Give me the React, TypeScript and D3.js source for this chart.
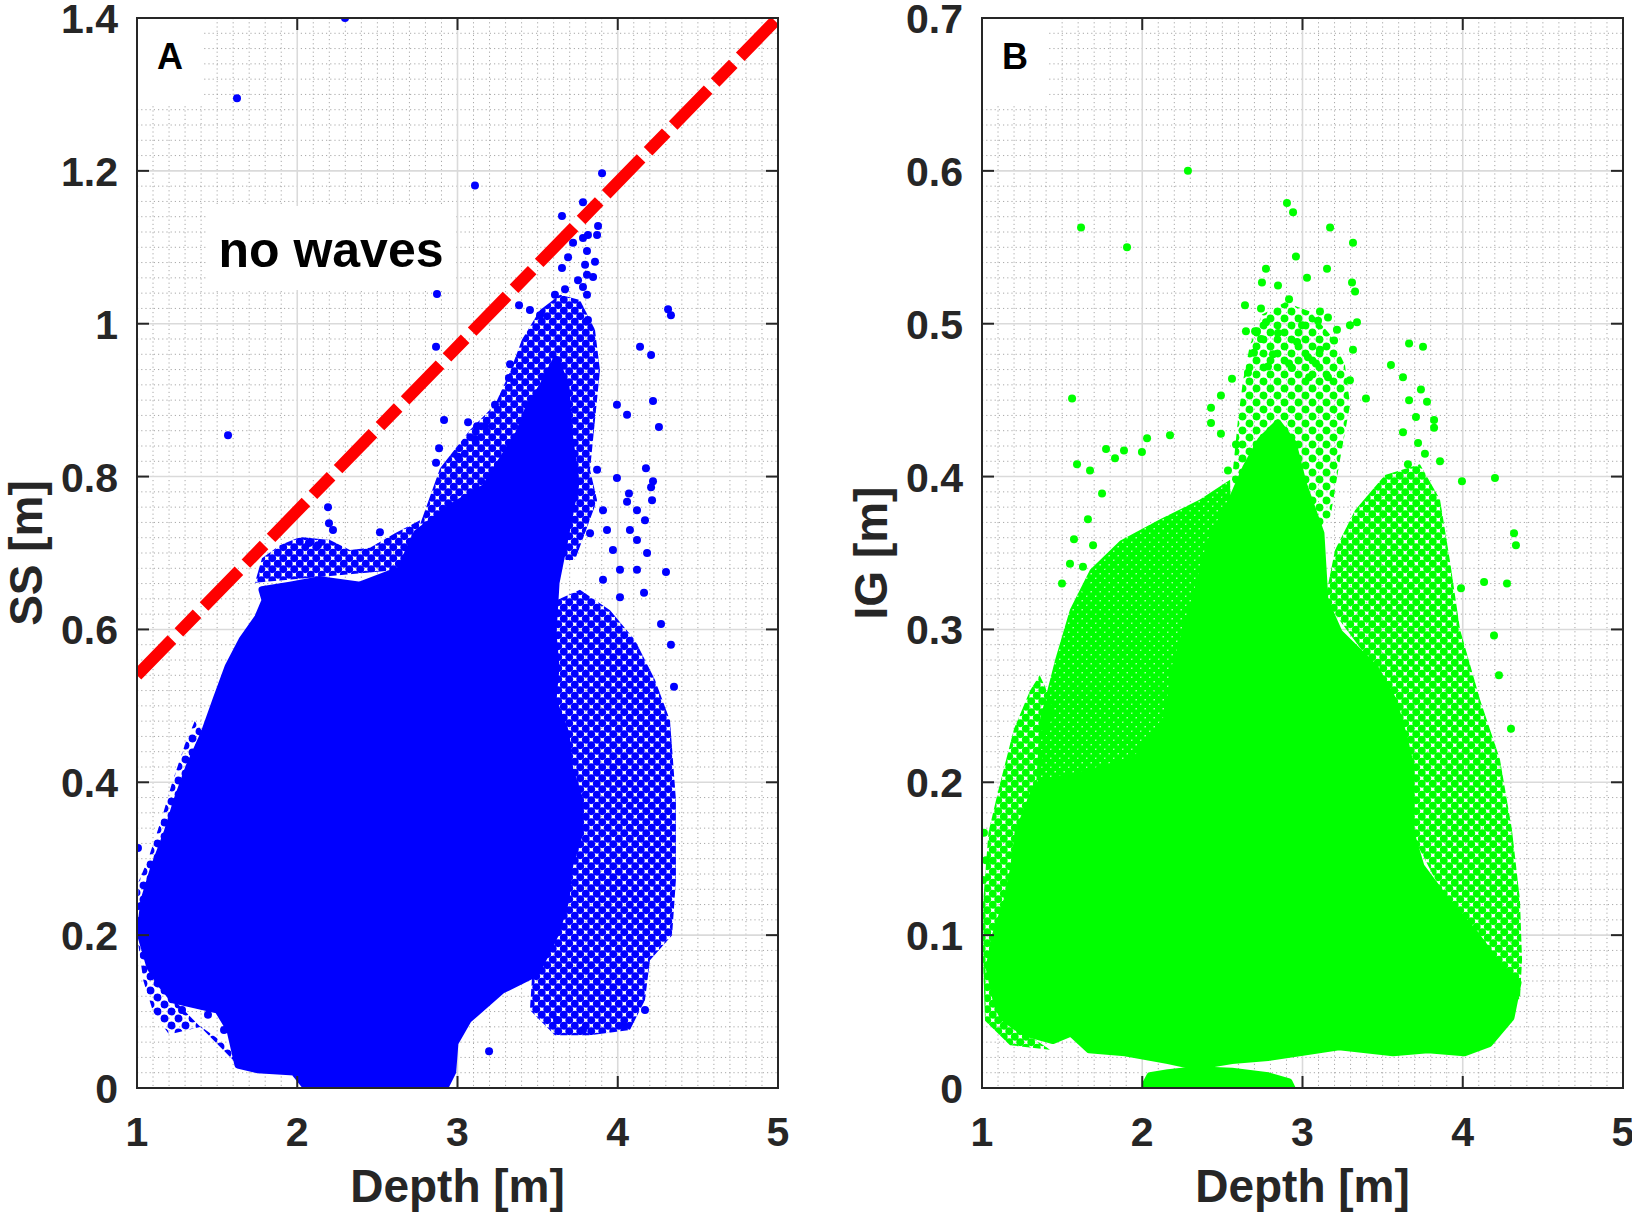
import React from "react";
import * as d3 from "d3";

type P = [number, number];

// ---------- axes / ticks ----------
const DEPTH_TICKS = [1, 2, 3, 4, 5];
const SS_TICKS = [0, 0.2, 0.4, 0.6, 0.8, 1, 1.2, 1.4];
const IG_TICKS = [0, 0.1, 0.2, 0.3, 0.4, 0.5, 0.6, 0.7];

// ---------- Panel A: SS wave height vs depth ----------
// dense core of the cloud (outline, [depth, SS])
const SS_CORE: P[] = [
  [1.799, 0.638], [1.755, 0.616], [1.655, 0.586], [1.568, 0.551], [1.493, 0.508],
  [1.418, 0.464], [1.324, 0.42], [1.25, 0.377], [1.187, 0.334], [1.106, 0.289],
  [1.044, 0.246], [1.019, 0.203], [1.081, 0.158], [1.144, 0.137], [1.231, 0.115],
  [1.505, 0.102], [1.58, 0.076], [1.63, 0.03], [1.75, 0.024], [1.98, 0.021], [2.06, 0],
  [2.92, 0], [2.97, 0.021], [2.984, 0.059], [3.066, 0.089], [3.278, 0.128],
  [3.49, 0.15], [3.615, 0.203], [3.677, 0.246], [3.696, 0.289], [3.764, 0.334],
  [3.764, 0.377], [3.696, 0.42], [3.677, 0.464], [3.596, 0.508], [3.615, 0.551],
  [3.596, 0.595], [3.615, 0.661], [3.677, 0.726], [3.739, 0.792], [3.696, 0.857],
  [3.677, 0.917], [3.615, 0.953], [3.527, 0.917], [3.446, 0.891], [3.384, 0.857],
  [3.278, 0.822], [3.172, 0.786], [2.959, 0.76], [2.747, 0.726], [2.641, 0.678],
  [2.392, 0.658], [2.142, 0.665], [1.955, 0.658], [1.78, 0.652],
];
// busy but scattered areas around the core
const SS_FRINGE_LEFT_LOBE: P[] = [
  [1.736, 0.661], [1.78, 0.693], [1.892, 0.71], [2.017, 0.721], [2.204, 0.717],
  [2.329, 0.704], [2.454, 0.707], [2.61, 0.726], [2.766, 0.743], [2.747, 0.71],
  [2.641, 0.678],
];
const SS_FRINGE_SPIKE: P[] = [
  [2.747, 0.726], [2.891, 0.811], [3.078, 0.861], [3.234, 0.894], [3.328, 0.937],
  [3.402, 0.979], [3.515, 1.018], [3.64, 1.038], [3.764, 1.031], [3.858, 0.992],
  [3.889, 0.939], [3.858, 0.874], [3.827, 0.809], [3.871, 0.769], [3.733, 0.691],
  [3.265, 0.691],
];
const SS_FRINGE_RIGHT: P[] = [
  [3.615, 0.638], [3.764, 0.652], [3.952, 0.625], [4.108, 0.586], [4.232, 0.534],
  [4.326, 0.481], [4.363, 0.377], [4.363, 0.272], [4.339, 0.2], [4.201, 0.167],
  [4.17, 0.115], [4.076, 0.076], [3.827, 0.069], [3.608, 0.069], [3.452, 0.102],
];
const SS_FRINGE_LEFT_EDGE: P[] = [
  [1.418, 0.464], [1.36, 0.48], [1.3, 0.45], [1.22, 0.4], [1.15, 0.35],
  [1.07, 0.3], [1.01, 0.27], [1.0, 0.2], [1.04, 0.14], [1.1, 0.1],
  [1.2, 0.07], [1.4, 0.08], [1.6, 0.05], [1.7, 0.03], [1.8, 0.024],
  [1.63, 0.03], [1.231, 0.115],
];
// individual visible points
const SS_POINTS: P[] = [
  [2.298, 1.4], [1.624, 1.295], [3.109, 1.181], [2.872, 1.039], [2.866, 0.97], [1.568, 0.854],
  [3.902, 1.197], [3.783, 1.159], [3.652, 1.141], [3.877, 1.128], [3.871, 1.116], [3.814, 1.116],
  [3.783, 1.112], [3.721, 1.106], [3.808, 1.095], [3.69, 1.087], [3.546, 1.087], [3.652, 1.073],
  [3.858, 1.081], [3.796, 1.077], [3.808, 1.064], [3.846, 1.061], [3.752, 1.057], [3.783, 1.048],
  [3.671, 1.045], [3.608, 1.038], [3.808, 1.038], [3.384, 1.024], [3.452, 1.018], [3.515, 1.011],
  [3.814, 1.005], [4.139, 0.97], [4.208, 0.959], [3.995, 0.894], [4.058, 0.881], [4.176, 0.811],
  [4.257, 0.865], [2.916, 0.874], [3.066, 0.871], [3.122, 0.866], [3.172, 0.866], [3.109, 0.849],
  [3.234, 0.894], [3.328, 0.947], [3.321, 0.929], [2.516, 0.727], [2.192, 0.76], [2.198, 0.739],
  [2.223, 0.73], [2.073, 0.713], [2.129, 0.71], [2.866, 0.818], [2.885, 0.837], [3.003, 0.826],
  [4.314, 1.019], [4.332, 1.011], [4.22, 0.899], [4.07, 0.778], [4.22, 0.794], [4.17, 0.743],
  [4.301, 0.675], [4.27, 0.607], [4.332, 0.58], [4.351, 0.525], [1.006, 0.314], [1.025, 0.238],
  [1.187, 0.144], [1.218, 0.116], [1.281, 0.102], [1.443, 0.096], [1.543, 0.076], [1.705, 0.042],
  [1.768, 0.027], [3.621, 0.089], [3.783, 0.076], [4.039, 0.082], [4.17, 0.102], [3.197, 0.048],
  [2.941, 0.014], [3.871, 0.809], [3.995, 0.798], [3.908, 0.756], [4.058, 0.767], [4.12, 0.756],
  [3.933, 0.73], [4.076, 0.73], [3.827, 0.726], [3.97, 0.704], [4.12, 0.717], [4.183, 0.7],
  [4.014, 0.678], [4.12, 0.678], [3.908, 0.665], [4.014, 0.642], [4.164, 0.648], [4.208, 0.786],
  [4.214, 0.769],
];
// "no waves" limit line
const LIMIT_LINE: P[] = [[1, 0.54], [5, 1.4]];

// ---------- Panel B: IG wave height vs depth ----------
const IG_CORE: P[] = [
  [2.847, 0.435], [2.941, 0.422], [3.003, 0.396], [3.115, 0.363], [3.14, 0.319],
  [3.228, 0.298], [3.452, 0.275], [3.565, 0.254], [3.627, 0.232], [3.677, 0.21],
  [3.677, 0.188], [3.677, 0.167], [3.739, 0.145], [3.896, 0.123], [4.076, 0.101],
  [4.232, 0.079], [4.345, 0.069], [4.301, 0.046], [4.164, 0.029], [4.008, 0.023],
  [3.783, 0.025], [3.565, 0.023], [3.228, 0.027], [2.785, 0.02], [2.56, 0.018],
  [2.335, 0.014], [2.161, 0.018], [1.892, 0.023], [1.668, 0.025], [1.555, 0.036],
  [1.443, 0.031], [1.268, 0.036], [1.131, 0.046], [1.087, 0.058], [1.044, 0.079],
  [1.087, 0.101], [1.156, 0.123], [1.2, 0.145], [1.225, 0.167], [1.337, 0.197],
  [1.443, 0.201], [1.668, 0.206], [1.961, 0.215], [2.161, 0.243], [2.204, 0.275],
  [2.329, 0.319], [2.429, 0.358], [2.56, 0.385], [2.647, 0.406], [2.741, 0.424],
];
const IG_BOTTOM_BLOB: P[] = [
  [2.023, 0.003], [2.048, 0.008], [2.161, 0.01], [2.335, 0.012], [2.56, 0.011],
  [2.785, 0.008], [2.916, 0.004], [2.934, 0], [2.023, 0],
];
const IG_FRINGE_UPPER_LEFT: P[] = [
  [1.337, 0.197], [1.362, 0.241], [1.456, 0.28], [1.549, 0.313], [1.674, 0.339],
  [1.861, 0.358], [2.111, 0.372], [2.36, 0.385], [2.548, 0.398], [2.56, 0.345],
  [2.429, 0.306], [2.248, 0.267], [2.161, 0.234], [1.961, 0.208],
];
const IG_FRINGE_SPIKE: P[] = [
  [2.56, 0.398], [2.597, 0.437], [2.629, 0.463], [2.672, 0.486], [2.747, 0.506],
  [2.891, 0.514], [3.047, 0.508], [3.172, 0.493], [3.265, 0.473], [3.297, 0.447],
  [3.234, 0.411], [3.172, 0.372], [2.984, 0.358], [2.735, 0.358],
];
const IG_FRINGE_RIGHT: P[] = [
  [3.14, 0.319], [3.203, 0.352], [3.328, 0.378], [3.515, 0.401], [3.733, 0.408],
  [3.858, 0.385], [3.92, 0.345], [3.983, 0.3], [4.108, 0.254], [4.232, 0.215],
  [4.307, 0.169], [4.357, 0.123], [4.37, 0.084], [4.357, 0.058], [4.232, 0.058],
  [3.896, 0.123], [3.677, 0.167], [3.627, 0.232], [3.452, 0.275],
];
const IG_FRINGE_LEFT_EDGE: P[] = [
  [1.45, 0.25], [1.36, 0.27], [1.3, 0.26], [1.2, 0.235], [1.1, 0.194],
  [1.04, 0.167], [1.006, 0.12], [1.006, 0.084], [1.019, 0.044], [1.175, 0.028],
  [1.424, 0.025], [1.131, 0.046], [1.044, 0.079], [1.2, 0.145], [1.337, 0.197],
];
const IG_POINTS: P[] = [
  [2.285, 0.6], [1.618, 0.563], [1.905, 0.55], [1.562, 0.451], [2.903, 0.579], [2.941, 0.573],
  [3.172, 0.563], [3.315, 0.553], [2.959, 0.544], [2.772, 0.536], [3.153, 0.536], [3.028, 0.53],
  [2.747, 0.527], [2.847, 0.525], [3.309, 0.527], [3.328, 0.521], [2.916, 0.516], [2.641, 0.512],
  [2.741, 0.51], [3.109, 0.508], [2.772, 0.501], [3.097, 0.502], [3.159, 0.504], [3.296, 0.499],
  [3.34, 0.501], [2.997, 0.499], [2.647, 0.495], [2.716, 0.495], [2.847, 0.494], [3.215, 0.496],
  [3.665, 0.487], [3.752, 0.485], [3.552, 0.473], [3.627, 0.465], [3.739, 0.457], [3.665, 0.45],
  [3.777, 0.449], [3.708, 0.439], [3.821, 0.437], [3.821, 0.432], [3.627, 0.429], [3.721, 0.422],
  [3.764, 0.415], [3.858, 0.41], [3.658, 0.408], [4.201, 0.399], [4.32, 0.363], [4.332, 0.355],
  [3.989, 0.327], [4.133, 0.331], [4.276, 0.33], [1.593, 0.408], [1.674, 0.404], [1.749, 0.389],
  [1.774, 0.418], [1.83, 0.412], [1.886, 0.417], [2.03, 0.425], [1.998, 0.416], [2.173, 0.427],
  [1.574, 0.359], [1.549, 0.343], [1.63, 0.341], [1.661, 0.372], [1.693, 0.355], [1.499, 0.33],
  [1.649, 0.326], [2.704, 0.495], [2.741, 0.49], [2.697, 0.481], [2.816, 0.48], [2.966, 0.488],
  [2.916, 0.474], [3.034, 0.478], [3.084, 0.474], [3.109, 0.483], [3.197, 0.489], [3.315, 0.483],
  [2.66, 0.468], [2.56, 0.464], [2.785, 0.472], [2.934, 0.471], [3.041, 0.465], [3.159, 0.465],
  [3.296, 0.463], [3.396, 0.451], [2.491, 0.453], [2.429, 0.445], [2.429, 0.435], [2.491, 0.428],
  [2.585, 0.421], [2.535, 0.404], [1.012, 0.167], [1.025, 0.149], [1.006, 0.136], [3.995, 0.397],
  [4.195, 0.296], [4.226, 0.27], [4.301, 0.235],
];

// ---------- layout ----------
const W = 1632;
const H = 1216;
const TOP = 18;
const BOTTOM = 1088;
const FONT = "'Liberation Sans', Arial, Helvetica, sans-serif";
const AX = "#262626";

type Density = "dense" | "medium" | "sparse";
type Fringe = { pts: P[]; density: Density };

type PanelProps = {
  id: string;
  left: number;
  right: number;
  yMax: number;
  yTicks: number[];
  yMinorStep: number;
  yMajorStep: number;
  ylabel: string;
  letter: string;
  color: string;
  core: P[][];
  fringe: Fringe[];
  points: P[];
  children?: (x: d3.ScaleLinear<number, number>, y: d3.ScaleLinear<number, number>) => React.ReactNode;
};

const PATTERNS: Record<Density, { tile: number; r: number }> = {
  dense: { tile: 9, r: 3.9 },
  medium: { tile: 11, r: 3.9 },
  sparse: { tile: 14, r: 3.9 },
};

function fmt(v: number) {
  return String(Math.round(v * 100) / 100);
}

function Panel(p: PanelProps) {
  const x = d3.scaleLinear().domain([1, 5]).range([p.left, p.right]);
  const y = d3.scaleLinear().domain([0, p.yMax]).range([BOTTOM, TOP]);
  const poly = d3
    .line<P>()
    .x((d) => x(d[0]))
    .y((d) => y(d[1]))
    .curve(d3.curveLinearClosed);

  const xMinor = d3.range(10, 51).map((i) => i / 10).filter((v) => Math.abs(v - Math.round(v)) > 1e-6);
  const nMinorY = Math.round(p.yMax / p.yMinorStep);
  const ratio = Math.round(p.yMajorStep / p.yMinorStep);
  const yMinor = d3.range(1, nMinorY).filter((i) => i % ratio !== 0).map((i) => i * p.yMinorStep);
  const clip = `clip-${p.id}`;
  const tickLen = 12;

  return (
    <g>
      <defs>
        <clipPath id={clip}>
          <rect x={p.left} y={TOP} width={p.right - p.left} height={BOTTOM - TOP} />
        </clipPath>
        {(Object.keys(PATTERNS) as Density[]).map((k) => {
          const { tile, r } = PATTERNS[k];
          const centres: P[] = [
            [tile / 4, tile / 4], [tile / 4 + tile, tile / 4], [tile / 4, tile / 4 + tile],
            [tile / 4 + tile, tile / 4 + tile], [(3 * tile) / 4, (3 * tile) / 4],
            [(3 * tile) / 4 - tile, (3 * tile) / 4 - tile], [(3 * tile) / 4, (3 * tile) / 4 - tile],
            [(3 * tile) / 4 - tile, (3 * tile) / 4],
          ];
          return (
            <pattern key={k} id={`pat-${p.id}-${k}`} width={tile} height={tile} patternUnits="userSpaceOnUse">
              {centres.map((c, i) => (
                <circle key={i} cx={c[0]} cy={c[1]} r={r} fill={p.color} />
              ))}
            </pattern>
          );
        })}
      </defs>
      <rect x={p.left} y={TOP} width={p.right - p.left} height={BOTTOM - TOP} fill="#fff" />
      {/* minor grid */}
      <g stroke="#a8a8a8" strokeWidth={1} strokeDasharray="1.2 3">
        {xMinor.map((v) => (
          <line key={"xm" + v} x1={x(v)} x2={x(v)} y1={TOP} y2={BOTTOM} />
        ))}
        {yMinor.map((v) => (
          <line key={"ym" + v} x1={p.left} x2={p.right} y1={y(v)} y2={y(v)} />
        ))}
      </g>
      {/* major grid */}
      <g stroke="#dadada" strokeWidth={1.6}>
        {DEPTH_TICKS.slice(1, -1).map((v) => (
          <line key={"xg" + v} x1={x(v)} x2={x(v)} y1={TOP} y2={BOTTOM} />
        ))}
        {p.yTicks.slice(1, -1).map((v) => (
          <line key={"yg" + v} x1={p.left} x2={p.right} y1={y(v)} y2={y(v)} />
        ))}
      </g>
      {/* data */}
      <g clipPath={`url(#${clip})`}>
        {p.fringe.map((f, i) => (
          <path key={"f" + i} d={poly(f.pts) || ""} fill={`url(#pat-${p.id}-${f.density})`} stroke="none" />
        ))}
        {p.core.map((c, i) => (
          <path
            key={"c" + i}
            d={poly(c) || ""}
            fill={p.color}
            stroke={p.color}
            strokeWidth={7}
            strokeLinejoin="round"
          />
        ))}
        {p.points.map((d, i) => (
          <circle key={"p" + i} cx={x(d[0])} cy={y(d[1])} r={4} fill={p.color} />
        ))}
        {p.children ? p.children(x, y) : null}
      </g>
      {/* letter box */}
      <rect x={p.left + 1} y={TOP + 1} width={64} height={86} fill="#fff" />
      <text
        x={p.left + 33}
        y={TOP + 51}
        textAnchor="middle"
        fontFamily={FONT}
        fontWeight="bold"
        fontSize={36}
        fill="#000"
      >
        {p.letter}
      </text>
      {/* box and ticks */}
      <rect
        x={p.left}
        y={TOP}
        width={p.right - p.left}
        height={BOTTOM - TOP}
        fill="none"
        stroke={AX}
        strokeWidth={2}
      />
      <g stroke={AX} strokeWidth={2}>
        {DEPTH_TICKS.map((v) => (
          <g key={"xt" + v}>
            <line x1={x(v)} x2={x(v)} y1={BOTTOM} y2={BOTTOM - tickLen} />
            <line x1={x(v)} x2={x(v)} y1={TOP} y2={TOP + tickLen} />
          </g>
        ))}
        {p.yTicks.map((v) => (
          <g key={"yt" + v}>
            <line x1={p.left} x2={p.left + tickLen} y1={y(v)} y2={y(v)} />
            <line x1={p.right} x2={p.right - tickLen} y1={y(v)} y2={y(v)} />
          </g>
        ))}
      </g>
      <g fontFamily={FONT} fontWeight="bold" fontSize={41} fill={AX}>
        {DEPTH_TICKS.map((v) => (
          <text key={"xl" + v} x={x(v)} y={1146} textAnchor="middle">
            {fmt(v)}
          </text>
        ))}
        {p.yTicks.map((v) => (
          <text key={"yl" + v} x={p.left - 19} y={y(v) + 15} textAnchor="end">
            {fmt(v)}
          </text>
        ))}
      </g>
      <text
        x={(p.left + p.right) / 2}
        y={1202}
        textAnchor="middle"
        fontFamily={FONT}
        fontWeight="bold"
        fontSize={46}
        fill={AX}
      >
        Depth [m]
      </text>
      <text
        transform={`translate(${p.left - 95},${(TOP + BOTTOM) / 2}) rotate(-90)`}
        textAnchor="middle"
        fontFamily={FONT}
        fontWeight="bold"
        fontSize={46}
        fill={AX}
      >
        {p.ylabel}
      </text>
    </g>
  );
}

export default function App() {
  return (
    <div style={{ position: "absolute", left: 0, top: 0 }}>
      <svg width={W} height={H} viewBox={`0 0 ${W} ${H}`} style={{ display: "block", background: "#fff" }}>
        <rect width={W} height={H} fill="#fff" />
        <Panel
          id="a"
          left={137}
          right={778}
          yMax={1.4}
          yTicks={SS_TICKS}
          yMinorStep={0.02}
          yMajorStep={0.2}
          ylabel="SS [m]"
          letter="A"
          color="#0000ff"
          core={[SS_CORE]}
          fringe={[
            { pts: SS_FRINGE_LEFT_LOBE, density: "medium" },
            { pts: SS_FRINGE_SPIKE, density: "medium" },
            { pts: SS_FRINGE_RIGHT, density: "medium" },
            { pts: SS_FRINGE_LEFT_EDGE, density: "sparse" },
          ]}
          points={SS_POINTS}
        >
          {(x, y) => (
            <path
              d={
                d3
                  .line<P>()
                  .x((d) => x(d[0]))
                  .y((d) => y(d[1]))(LIMIT_LINE) || ""
              }
              stroke="#ff0000"
              strokeWidth={12}
              strokeDasharray="50 10 26 10"
              fill="none"
            />
          )}
        </Panel>
        <rect x={206} y={206} width={250} height={84} fill="#fff" />
        <text x={331} y={267} textAnchor="middle" fontFamily={FONT} fontWeight="bold" fontSize={50} fill="#000">
          no waves
        </text>
        <Panel
          id="b"
          left={982}
          right={1623}
          yMax={0.7}
          yTicks={IG_TICKS}
          yMinorStep={0.01}
          yMajorStep={0.1}
          ylabel="IG [m]"
          letter="B"
          color="#00ff00"
          core={[IG_CORE, IG_BOTTOM_BLOB]}
          fringe={[
            { pts: IG_FRINGE_UPPER_LEFT, density: "dense" },
            { pts: IG_FRINGE_SPIKE, density: "sparse" },
            { pts: IG_FRINGE_RIGHT, density: "medium" },
            { pts: IG_FRINGE_LEFT_EDGE, density: "medium" },
          ]}
          points={IG_POINTS}
        />
      </svg>
    </div>
  );
}
